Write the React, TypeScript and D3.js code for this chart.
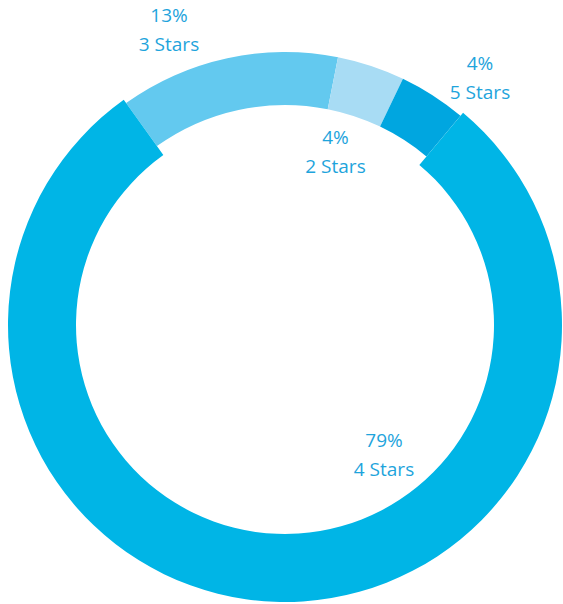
import React from "react";
import * as d3 from "d3";

const categories = ["3 Stars", "2 Stars", "5 Stars", "4 Stars"];
const values = [13, 4, 4, 79];
const percentLabels = ["13%", "4%", "4%", "79%"];
const colors = ["#63C9EF", "#A8DCF4", "#00A6E0", "#00B5E6"];

const W = 563;
const H = 604;
const cx = 285;
const cy = 325;
const startDeg = -35.6;

// label anchors: offset of the first text baseline from the ring centre
const labelOffset: Record<string, { dx: number; dy: number }> = {
  "3 Stars": { dx: -116, dy: -303 },
  "2 Stars": { dx: 50.5, dy: -181 },
  "5 Stars": { dx: 195, dy: -255 },
  "4 Stars": { dx: 99, dy: 122 },
};

export default function App() {
  const start = (startDeg * Math.PI) / 180;
  const pie = d3
    .pie<number>()
    .sort(null)
    .value((d) => d)
    .startAngle(start)
    .endAngle(start + 2 * Math.PI);
  const arcs = pie(values);

  const smallArc = d3.arc<d3.PieArcDatum<number>>().innerRadius(220).outerRadius(273);
  const bigArc = d3.arc<d3.PieArcDatum<number>>().innerRadius(209).outerRadius(277);

  const maxIdx = values.indexOf(d3.max(values) as number);
  const order = arcs.map((_, i) => i).sort((a, b) => (a === maxIdx ? 1 : 0) - (b === maxIdx ? 1 : 0));

  return (
    <svg
      width={W}
      height={H}
      style={{ position: "absolute", left: 0, top: 0, background: "#fff" }}
      fontFamily="'Open Sans', 'Noto Sans', sans-serif"
    >
      <g transform={`translate(${cx},${cy})`}>
        {order.map((i) => (
          <path
            key={categories[i]}
            d={(i === maxIdx ? bigArc : smallArc)(arcs[i]) as string}
            fill={colors[i]}
          />
        ))}
        {categories.map((c, i) => {
          const p = labelOffset[c];
          return (
            <text
              key={c}
              x={p.dx}
              y={p.dy}
              textAnchor="middle"
              fill="#1EA4DC"
              fontSize={19}
            >
              <tspan x={p.dx} dy={0}>{percentLabels[i]}</tspan>
              <tspan x={p.dx} dy={28.5}>{c}</tspan>
            </text>
          );
        })}
      </g>
    </svg>
  );
}
